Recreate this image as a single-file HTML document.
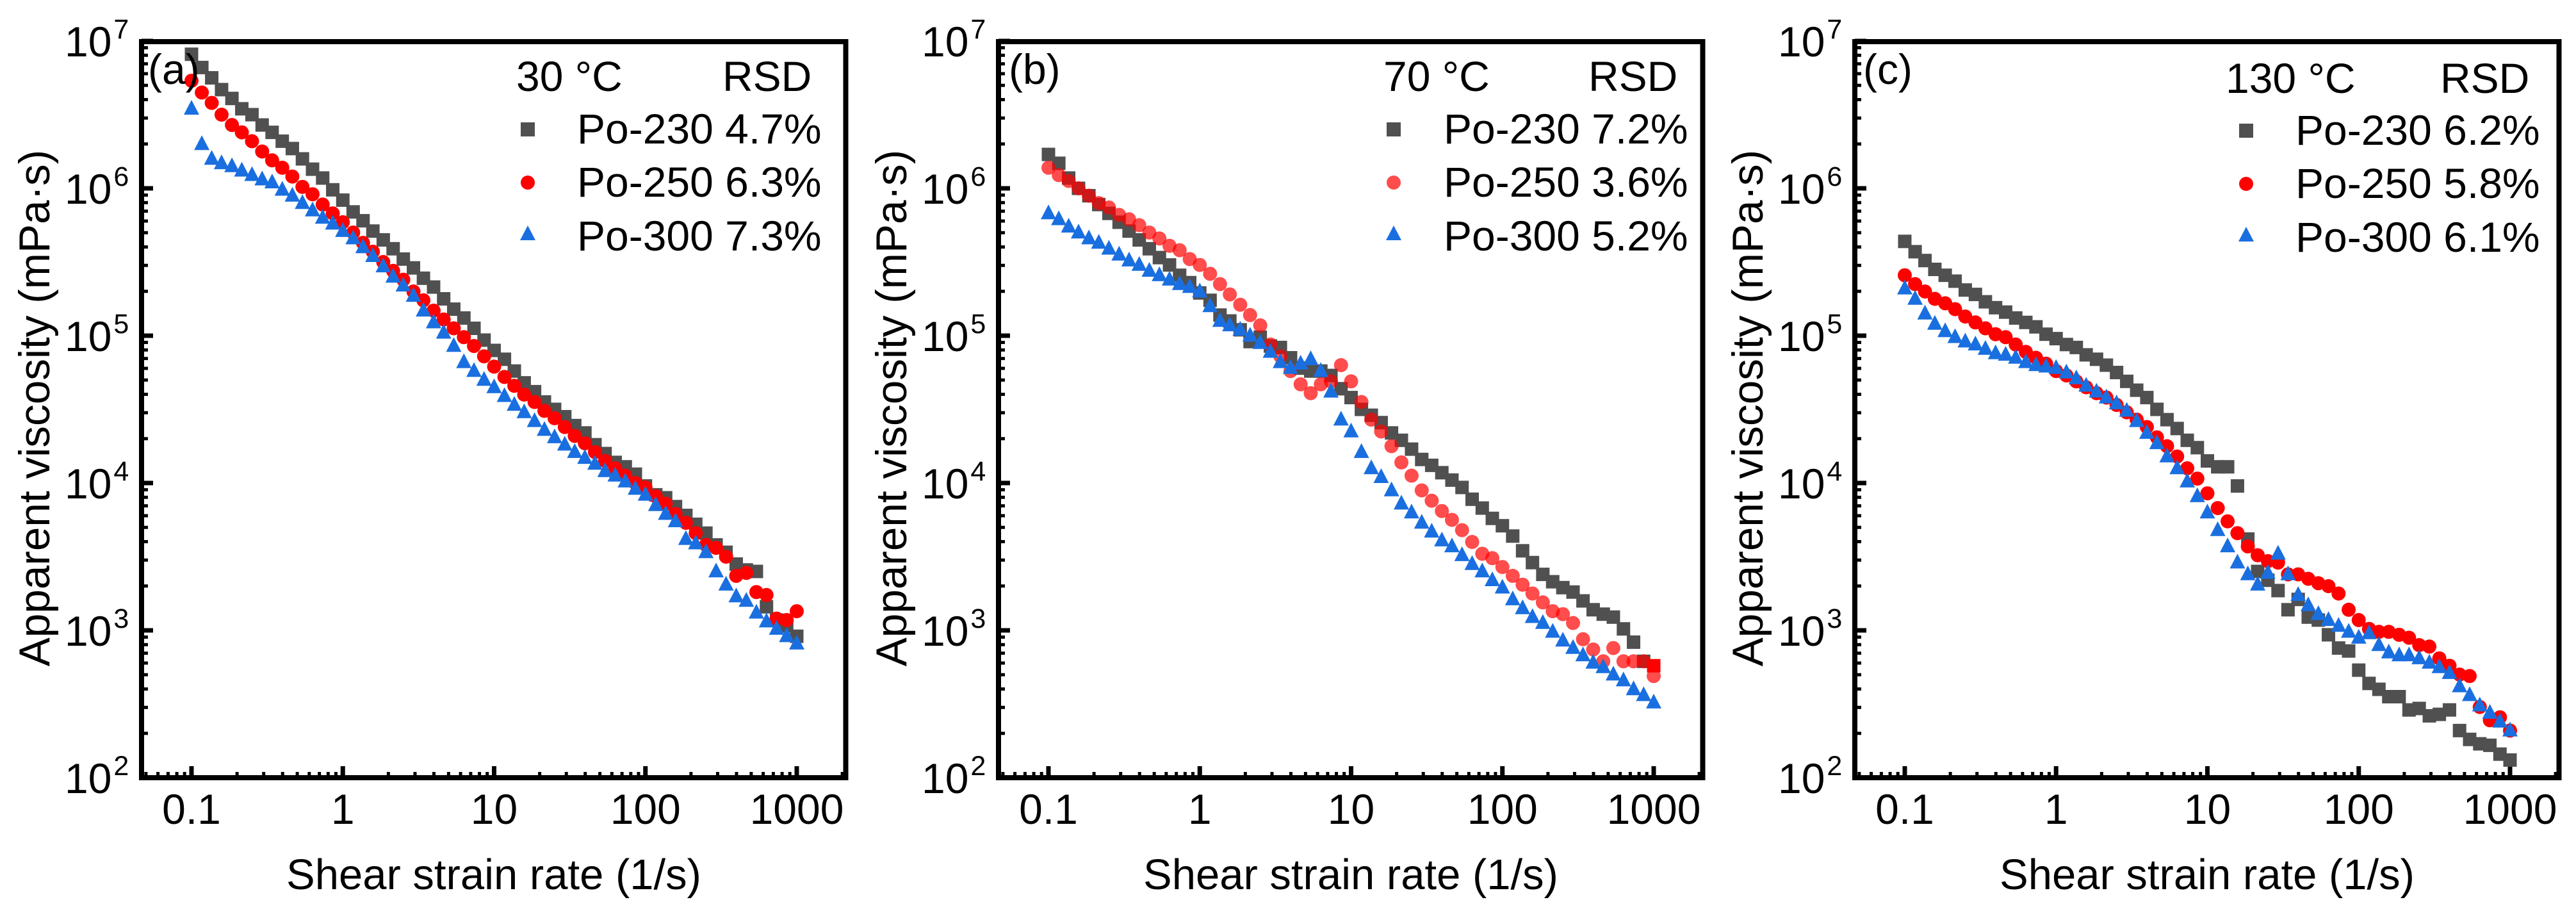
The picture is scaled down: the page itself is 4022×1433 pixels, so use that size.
<!DOCTYPE html>
<html lang="en">
<head>
<meta charset="utf-8">
<title>Apparent viscosity versus shear strain rate</title>
<style>
html,body{margin:0;padding:0;background:#fff;}
svg{display:block;}
text{font-family:"Liberation Sans",sans-serif;fill:#000;font-size:66px;}
text.axis-y{font-size:67.5px;}
text.axis-x{font-size:67px;}
</style>
</head>
<body>
<svg id="chart" xmlns="http://www.w3.org/2000/svg" width="4022" height="1433" viewBox="0 0 4022 1433">
  <rect x="0" y="0" width="4022" height="1433" fill="#fff"/>

  <g id="panel-a">
    <g id="marks-a"></g>
    <rect x="221" y="65" width="1099.5" height="1149" fill="none" stroke="#000" stroke-width="8"/>
    <text class="axis-y" x="0" y="0" transform="translate(77 637) rotate(-90)" text-anchor="middle">Apparent viscosity (mPa·s)</text>
    <text class="axis-x" x="771" y="1388" text-anchor="middle">Shear strain rate (1/s)</text>
    <text x="231" y="131">(a)</text>
    <g>
      <text x="806" y="142">30 °C</text>
      <text x="1128" y="142">RSD</text>
      <rect x="813" y="191" width="22" height="22" fill="#505050"/>
      <text x="901" y="224">Po-230 4.7%</text>
      <circle cx="824" cy="285" r="11" fill="#ff0000"/>
      <text x="901" y="307">Po-250 6.3%</text>
      <polygon points="824,352 836,375 812,375" fill="#1a6fe0"/>
      <text x="901" y="391">Po-300 7.3%</text>
    </g>
  </g>

  <g id="panel-b">
    <g id="marks-b"></g>
    <rect x="1559" y="65" width="1099.5" height="1149" fill="none" stroke="#000" stroke-width="8"/>
    <text class="axis-y" x="0" y="0" transform="translate(1415 637) rotate(-90)" text-anchor="middle">Apparent viscosity (mPa·s)</text>
    <text class="axis-x" x="2109" y="1388" text-anchor="middle">Shear strain rate (1/s)</text>
    <text x="1575" y="131">(b)</text>
    <g>
      <text x="2160" y="142">70 °C</text>
      <text x="2480" y="142">RSD</text>
      <rect x="2165" y="191" width="22" height="22" fill="#505050"/>
      <text x="2254" y="224">Po-230 7.2%</text>
      <circle cx="2176" cy="285" r="11" fill="#ff4d4d"/>
      <text x="2254" y="307">Po-250 3.6%</text>
      <polygon points="2176,352 2188,375 2164,375" fill="#1a6fe0"/>
      <text x="2254" y="391">Po-300 5.2%</text>
    </g>
  </g>

  <g id="panel-c">
    <g id="marks-c"></g>
    <rect x="2896" y="65" width="1099.5" height="1149" fill="none" stroke="#000" stroke-width="8"/>
    <text class="axis-y" x="0" y="0" transform="translate(2752 637) rotate(-90)" text-anchor="middle">Apparent viscosity (mPa·s)</text>
    <text class="axis-x" x="3446" y="1388" text-anchor="middle">Shear strain rate (1/s)</text>
    <text x="2909" y="131">(c)</text>
    <g>
      <text x="3475" y="145">130 °C</text>
      <text x="3810" y="145">RSD</text>
      <rect x="3496" y="193" width="22" height="22" fill="#505050"/>
      <text x="3584" y="226">Po-230 6.2%</text>
      <circle cx="3507" cy="287" r="11" fill="#ff0000"/>
      <text x="3584" y="309">Po-250 5.8%</text>
      <polygon points="3507,354 3519,377 3495,377" fill="#1a6fe0"/>
      <text x="3584" y="393">Po-300 6.1%</text>
    </g>
  </g>
</svg>

<script>
// Shear strain rate (1/s), shared by every series
const shearRates = [0.1,0.117,0.136,0.158,0.185,0.215,0.251,0.293,0.341,0.398,0.464,0.541,0.631,0.736,0.858,1,1.17,1.36,1.58,1.85,2.15,2.51,2.93,3.41,3.98,4.64,5.41,6.31,7.36,8.58,10,11.7,13.6,15.8,18.5,21.5,25.1,29.3,34.1,39.8,46.4,54.1,63.1,73.6,85.8,100,117,136,158,185,215,251,293,341,398,464,541,631,736,858,1000];

// Apparent viscosity, as log10(mPa·s)
const a30Po230 = [6.91,6.82,6.75,6.67,6.61,6.54,6.50,6.43,6.38,6.32,6.27,6.20,6.13,6.07,5.99,5.92,5.84,5.78,5.71,5.65,5.59,5.52,5.46,5.39,5.33,5.25,5.18,5.12,5.05,4.97,4.90,4.84,4.76,4.68,4.62,4.55,4.50,4.45,4.39,4.34,4.26,4.20,4.14,4.11,4.06,3.98,3.92,3.90,3.84,3.78,3.72,3.66,3.58,3.53,3.45,3.41,3.40,3.16,3.07,3.03,2.96];
const a30Po250 = [6.73,6.65,6.58,6.50,6.43,6.38,6.32,6.25,6.19,6.14,6.08,6.01,5.96,5.89,5.83,5.77,5.70,5.63,5.57,5.50,5.44,5.38,5.30,5.24,5.17,5.11,5.05,4.99,4.93,4.86,4.79,4.72,4.66,4.60,4.55,4.49,4.44,4.38,4.32,4.27,4.21,4.15,4.10,4.05,4.00,3.97,3.91,3.86,3.79,3.73,3.66,3.58,3.56,3.50,3.37,3.39,3.26,3.24,3.08,3.07,3.13];
const a30Po300 = [6.55,6.31,6.21,6.18,6.16,6.13,6.10,6.07,6.05,6.00,5.96,5.91,5.86,5.81,5.77,5.72,5.67,5.61,5.55,5.48,5.41,5.35,5.28,5.18,5.10,5.03,4.94,4.83,4.77,4.71,4.66,4.60,4.54,4.49,4.43,4.37,4.32,4.27,4.22,4.18,4.14,4.09,4.06,4.02,3.97,3.93,3.86,3.80,3.75,3.63,3.60,3.54,3.41,3.32,3.24,3.21,3.13,3.07,3.02,2.97,2.92];

const b70Po230 = [6.23,6.17,6.07,6.00,5.95,5.89,5.83,5.77,5.71,5.65,5.59,5.53,5.48,5.41,5.36,5.29,5.24,5.14,5.10,5.04,4.96,4.99,4.93,4.92,4.85,4.78,4.76,4.76,4.73,4.64,4.58,4.50,4.46,4.41,4.34,4.29,4.23,4.16,4.12,4.07,4.02,3.97,3.89,3.83,3.76,3.71,3.64,3.54,3.46,3.38,3.33,3.29,3.26,3.20,3.14,3.11,3.09,3.01,2.92,2.79,2.76];
const b70Po250 = [6.14,6.09,6.05,6.00,5.95,5.90,5.87,5.82,5.79,5.75,5.70,5.66,5.61,5.58,5.52,5.48,5.42,5.35,5.28,5.21,5.14,5.07,4.94,4.86,4.76,4.67,4.61,4.67,4.69,4.80,4.69,4.55,4.43,4.35,4.25,4.14,4.05,3.95,3.88,3.81,3.75,3.68,3.60,3.52,3.49,3.43,3.37,3.31,3.25,3.19,3.13,3.11,3.05,2.94,2.87,2.79,2.88,2.79,2.79,2.79,2.69];
const b70Po300 = [5.84,5.80,5.75,5.71,5.67,5.64,5.60,5.56,5.52,5.49,5.45,5.42,5.39,5.36,5.34,5.31,5.21,5.11,5.08,5.05,5.01,4.96,4.90,4.83,4.79,4.82,4.85,4.77,4.63,4.44,4.36,4.22,4.11,4.05,3.96,3.87,3.81,3.74,3.68,3.62,3.58,3.52,3.46,3.41,3.35,3.30,3.22,3.16,3.10,3.06,3.00,2.94,2.89,2.84,2.79,2.76,2.71,2.67,2.61,2.57,2.52];

const c130Po230 = [5.64,5.57,5.51,5.45,5.41,5.37,5.31,5.28,5.23,5.19,5.16,5.12,5.09,5.06,5.01,4.98,4.94,4.92,4.87,4.84,4.80,4.75,4.69,4.63,4.58,4.50,4.43,4.37,4.29,4.24,4.15,4.11,4.11,3.98,3.62,3.40,3.34,3.27,3.14,3.21,3.09,3.07,2.97,2.88,2.86,2.73,2.64,2.60,2.55,2.55,2.46,2.47,2.42,2.43,2.46,2.32,2.26,2.23,2.22,2.16,2.12];
const c130Po250 = [5.41,5.35,5.30,5.25,5.22,5.18,5.13,5.09,5.05,5.01,4.99,4.94,4.89,4.85,4.81,4.76,4.73,4.69,4.65,4.61,4.58,4.53,4.48,4.43,4.38,4.31,4.25,4.18,4.10,4.03,3.93,3.83,3.74,3.66,3.57,3.51,3.47,3.46,3.38,3.38,3.35,3.32,3.30,3.25,3.14,3.07,3.01,2.99,2.99,2.97,2.95,2.90,2.89,2.81,2.76,2.70,2.69,2.48,2.39,2.41,2.32];
const c130Po300 = [5.33,5.26,5.16,5.09,5.04,5.00,4.97,4.95,4.92,4.89,4.88,4.86,4.83,4.81,4.80,4.79,4.76,4.72,4.67,4.63,4.59,4.55,4.50,4.43,4.35,4.28,4.19,4.11,4.02,3.92,3.81,3.69,3.58,3.47,3.39,3.32,3.40,3.53,3.39,3.25,3.18,3.12,3.08,3.04,3.00,2.96,2.99,2.91,2.86,2.84,2.84,2.82,2.79,2.76,2.72,2.63,2.57,2.50,2.45,2.39,2.33];

// Tick labels
const xTickLabels = ["0.1","1","10","100","1000"];
const xTickValues = [0.1,1,10,100,1000];
const yTickExponents = [2,3,4,5,6,7];

// Axis functions
const PX_PER_X_DECADE = 236.25, PX_PER_Y_DECADE = 230;
function xScale(rate, dx){ return 299 + dx + (Math.log10(rate) + 1) * PX_PER_X_DECADE; }
function yScale(logEta){ return 1214 - (logEta - 2) * PX_PER_Y_DECADE; }

const SVG_NS = "http://www.w3.org/2000/svg";
function make(tag, parent){
  const el = document.createElementNS(SVG_NS, tag);
  parent.appendChild(el);
  return el;
}

function drawAxes(root, dx, key){
  // x major ticks and labels
  xTickValues.forEach(function(v, i){
    const x = xScale(v, dx);
    const tick = make("rect", root);
    tick.setAttribute("x", x - 3.5);
    tick.setAttribute("y", 1196);
    tick.setAttribute("width", 7);
    tick.setAttribute("height", 18);
    
    
    const label = make("text", root);
    label.setAttribute("x", x);
    label.setAttribute("y", 1286);
    label.setAttribute("text-anchor", "middle");
    label.textContent = xTickLabels[i];
    
    
  });
  // x minor ticks, 0.06 through 2000
  for (let d = -2; d <= 3; d++) {
    for (let m = 2; m <= 9; m++) {
      const v = m * Math.pow(10, d);
      if (v < 0.05 || v > 2100) continue;
      const tick = make("rect", root);
      tick.setAttribute("x", xScale(v, dx) - 2.5);
      tick.setAttribute("y", 1205);
      tick.setAttribute("width", 5);
      tick.setAttribute("height", 9);
      
      
    }
  }
  // y major ticks and labels
  yTickExponents.forEach(function(e){
    const y = yScale(e);
    const tick = make("rect", root);
    tick.setAttribute("x", 221 + dx);
    tick.setAttribute("y", y - 3.5);
    tick.setAttribute("width", 18);
    tick.setAttribute("height", 7);
    
    
    const label = make("text", root);
    label.setAttribute("x", 101 + dx);
    label.setAttribute("y", y + 24);
    label.textContent = "10";
    
    
    const sup = make("tspan", label);
    sup.setAttribute("dx", 3);
    sup.setAttribute("dy", -28);
    sup.style.fontSize = "43px";
    sup.textContent = String(e);
    // y minor ticks inside this decade
    if (e < 7) {
      for (let m = 2; m <= 9; m++) {
        const minor = make("rect", root);
        minor.setAttribute("x", 221 + dx);
        minor.setAttribute("y", yScale(e + Math.log10(m)) - 2.5);
        minor.setAttribute("width", 10);
        minor.setAttribute("height", 5);
        
        
      }
    }
  });
}

function drawSquares(root, values, dx, key, lastColor){
  values.forEach(function(v, i){
    const x = xScale(shearRates[i], dx), y = yScale(v);
    const el = make("rect", root);
    el.setAttribute("x", x - 10.5);
    el.setAttribute("y", y - 10.5);
    el.setAttribute("width", 21);
    el.setAttribute("height", 21);
    el.setAttribute("fill", lastColor && i === values.length - 1 ? lastColor : "#505050");
    
    
  });
}

function drawCircles(root, values, dx, key, opacity){
  values.forEach(function(v, i){
    const el = make("circle", root);
    el.setAttribute("cx", xScale(shearRates[i], dx));
    el.setAttribute("cy", yScale(v));
    el.setAttribute("r", 11);
    el.setAttribute("fill", "#ff0000");
    el.setAttribute("fill-opacity", opacity);
    
    
  });
}

function drawTriangles(root, values, dx, key){
  values.forEach(function(v, i){
    const x = xScale(shearRates[i], dx), y = yScale(v);
    const el = make("polygon", root);
    el.setAttribute("points", x + "," + (y - 11.5) + " " + (x + 12) + "," + (y + 11.5) + " " + (x - 12) + "," + (y + 11.5));
    el.setAttribute("fill", "#1a6fe0");
    
    
  });
}

const rootA = document.getElementById("marks-a");
drawAxes(rootA, 0, "a");
drawSquares(rootA, a30Po230, 0, "a");
drawCircles(rootA, a30Po250, 0, "a", 1);
drawTriangles(rootA, a30Po300, 0, "a");

const rootB = document.getElementById("marks-b");
drawAxes(rootB, 1338, "b");
drawSquares(rootB, b70Po230, 1338, "b", "#ff0000");
drawCircles(rootB, b70Po250, 1338, "b", 0.7);
drawTriangles(rootB, b70Po300, 1338, "b");

const rootC = document.getElementById("marks-c");
drawAxes(rootC, 2675, "c");
drawSquares(rootC, c130Po230, 2675, "c");
drawCircles(rootC, c130Po250, 2675, "c", 1);
drawTriangles(rootC, c130Po300, 2675, "c");
</script>
</body>
</html>
